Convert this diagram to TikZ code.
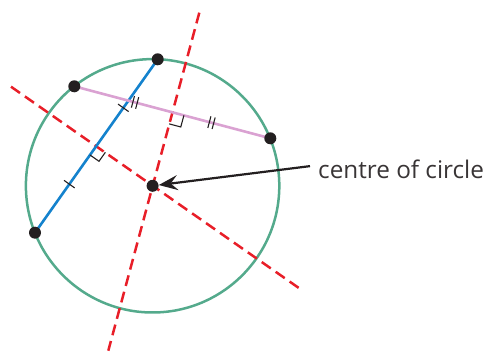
\documentclass[tikz,border=0pt]{standalone}
\usepackage{fontspec}
\setmainfont{Open Sans}
\usetikzlibrary{calc,arrows.meta}
\definecolor{circgreen}{RGB}{84,170,140}
\definecolor{chordblue}{RGB}{20,130,205}
\definecolor{chordpink}{RGB}{218,162,210}
\definecolor{perpred}{RGB}{232,30,40}
\definecolor{inkdark}{RGB}{35,31,32}
\tikzset{
  circline/.style={draw=circgreen,line width=2.5pt},
  bisector/.style={draw=perpred,line width=2.5pt,dash pattern=on 11pt off 6pt},
  bluechord/.style={draw=chordblue,line width=2.6pt},
  pinkchord/.style={draw=chordpink,line width=2.6pt},
  markline/.style={draw=inkdark,line width=1.1pt},
  dotnode/.style={circle,fill=inkdark,inner sep=0pt,minimum size=12pt},
  pointer/.style={draw=inkdark,line width=2.2pt,-{Stealth[length=19pt,width=15pt,inset=7pt]}},
  labeltext/.style={text=inkdark!90,font=\fontsize{24.3}{28}\selectfont,inner sep=0pt}
}
\begin{document}
\begin{tikzpicture}[x=1pt,y=-1pt]
\useasboundingbox (0,0) rectangle (490,352);
% geometry
\coordinate (O) at (152.6,185.8);
\coordinate (A) at (157.7,59.3);
\coordinate (B) at (35,232.7);
\coordinate (C) at (74.3,86.3);
\coordinate (D) at (270.3,138.3);
\coordinate (R1s) at (11,86.7);
\coordinate (R1e) at (301.7,290);
\coordinate (R2s) at (199.3,12.7);
\coordinate (R2e) at (108.3,350.7);
% circle
\draw[circline] (O) circle (126.7);
% perpendicular bisectors
\draw[bisector] (R1s) -- (R1e);
\draw[bisector] (R2s) -- (R2e);
% chords
\draw[bluechord] (A) -- (B);
\draw[pinkchord] (C) -- (D);
% right-angle marks
\coordinate (M1) at ($(A)!0.5!(B)$);
\coordinate (M1b) at ($(M1)!11pt!(B)$);
\coordinate (M1o) at ($(M1)!11pt!(R1e)$);
\draw[markline] (M1b) -- ($(M1b)+(M1o)-(M1)$) -- (M1o);
\coordinate (M2) at ($(C)!0.5!(D)$);
\coordinate (M2d) at ($(M2)!12pt!(D)$);
\coordinate (M2o) at ($(M2)!12pt!(R2e)$);
\draw[markline] (M2d) -- ($(M2d)+(M2o)-(M2)$) -- (M2o);
% single ticks on blue chord
\foreach \t in {0.28,0.72}{
  \coordinate (T) at ($(A)!\t!(B)$);
  \draw[markline] ($(T)!6.5pt!90:(B)$) -- ($(T)!6.5pt!-90:(B)$);
}
% double ticks on pink chord
\foreach \t in {0.31,0.70}{
  \foreach \s in {-2.2pt,2.2pt}{
    \coordinate (T) at ($(C)!\t!(D)$);
    \coordinate (Ts) at ($(T)!\s!(D)$);
    \draw[markline] ($(Ts)!6pt!90:(D)$) -- ($(Ts)!6pt!-90:(D)$);
  }
}
% dots
\node[dotnode] (a) at (A) {};
\node[dotnode] (b) at (B) {};
\node[dotnode] (c) at (C) {};
\node[dotnode] (d) at (D) {};
\node[dotnode] (o) at (O) {};
% label and pointer
\node[labeltext,anchor=base west] (lbl) at (318,178.3) {centre of circle};
\draw[pointer] ([xshift=-8pt,yshift=3pt]lbl.west) -- (o);
\end{tikzpicture}
\end{document}
